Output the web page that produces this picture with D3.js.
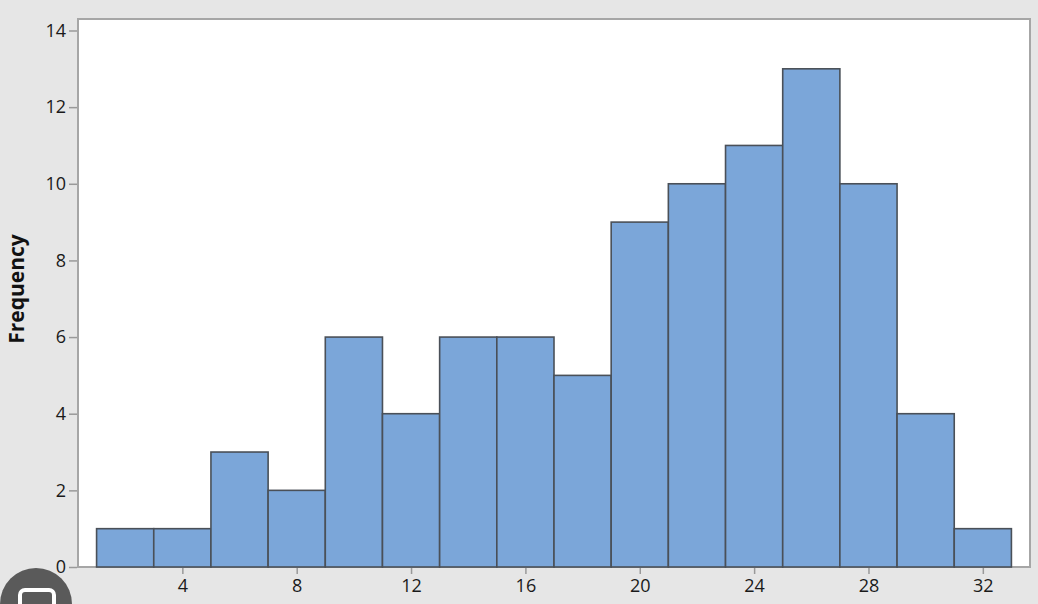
<!DOCTYPE html>
<html><head><meta charset="utf-8">
<script src="https://cdn.jsdelivr.net/npm/d3@7"></script>
<style>html,body{margin:0;padding:0;background:#e6e6e6;}svg{display:block;}</style>
</head><body>
<svg id="c" width="1038" height="604"></svg>
<script>
const binStarts = [1,3,5,7,9,11,13,15,17,19,21,23,25,27,29,31];
const binWidth = 2;
const frequencies = [1,1,3,2,6,4,6,6,5,9,10,11,13,10,4,1];
const xTicks = [4,8,12,16,20,24,28,32];
const yTicks = [0,2,4,6,8,10,12,14];
const yLabel = "Frequency";

const svg = d3.select("#c");
const L = 78, R = 1030, T = 19, B = 567;
const x = d3.scaleLinear().domain([0.35, 33.65]).range([L, R]);
const y = d3.scaleLinear().domain([0, 14.3]).range([B, T]);

svg.append("rect").attr("width",1038).attr("height",604).attr("fill","#e6e6e6");
svg.append("rect").attr("x",L).attr("y",T).attr("width",R-L).attr("height",B-T)
  .attr("fill","#fff").attr("stroke","#a6a6a6").attr("stroke-width",2);

svg.append("g").selectAll("rect").data(binStarts).join("rect")
  .attr("x", d => x(d))
  .attr("width", d => x(d+binWidth) - x(d))
  .attr("y", (d,i) => y(frequencies[i]))
  .attr("height", (d,i) => y(0) - y(frequencies[i]))
  .attr("fill","#7ba6d9").attr("stroke","#4a5058").attr("stroke-width",1.6);

const xa = svg.append("g").attr("transform",`translate(0,${B+1})`)
  .call(d3.axisBottom(x).tickValues(xTicks).tickSize(6).tickPadding(5));
const ya = svg.append("g").attr("transform",`translate(${L-1},0)`)
  .call(d3.axisLeft(y).tickValues(yTicks).tickSize(8).tickPadding(3));
[xa,ya].forEach(a=>{
  a.select(".domain").remove();
  a.selectAll(".tick line").attr("stroke","#999").attr("stroke-width",1.5);
  a.selectAll("text").attr("fill","#1a1a1a").attr("font-size",null)
   .style("font-family","'Open Sans','DejaVu Sans',sans-serif").style("font-size","18px");
  a.attr("font-size",null);
});

svg.append("text").attr("transform","translate(24,289) rotate(-90)")
  .attr("text-anchor","middle").attr("fill","#111")
  .style("font-family","'Open Sans','DejaVu Sans',sans-serif").style("font-size","21px").style("font-weight","bold")
  .text(yLabel);

// overlay icon from screenshot
svg.append("circle").attr("cx",36).attr("cy",604).attr("r",36).attr("fill","#5a5a5a");
svg.append("rect").attr("x",20).attr("y",590).attr("width",34).attr("height",22).attr("rx",5)
  .attr("fill","none").attr("stroke","#fff").attr("stroke-width",4);
</script>
</body></html>
